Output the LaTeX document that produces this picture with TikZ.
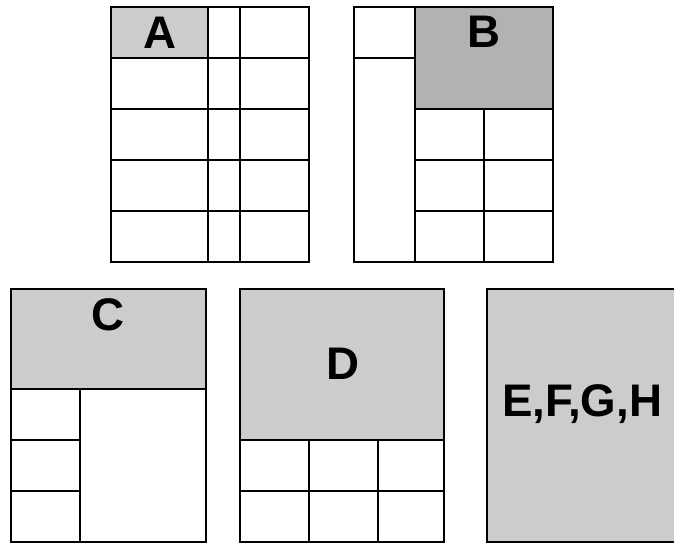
\documentclass[tikz,border=0pt]{standalone}
\usepackage{fontspec}
\setmainfont{Liberation Sans}
\usepackage{xcolor}
\usetikzlibrary{positioning}

\begin{document}
\begin{tikzpicture}[
                x=0.02cm, y=-0.02cm,
                frame/.style={draw=black, line width=1pt},
                lightcell/.style={fill=black!20},
                darkcell/.style={fill=black!30},
                letter/.style={
                        font=\fontsize{26}{31}\selectfont\bfseries,
                        inner sep=0pt
                    }
            ]

            \useasboundingbox (0,0) rectangle (674,543);
            \clip (0,0) rectangle (674,543);

            % layout A
            \fill[lightcell] (111,7) rectangle (208,58);
            \draw[frame] (111,7) rectangle (309,262);
            \foreach \x in {208,240}
                \draw[frame] (\x,7) -- (\x,262);
            \foreach \y in {58,109,160,211}
                \draw[frame] (111,\y) -- (309,\y);
            \node[letter] (labA) at (160,33) {A};

            % layout B
            \fill[darkcell] (415,7) rectangle (553,109);
            \draw[frame] (354,7) rectangle (553,262);
            \draw[frame] (415,7) -- (415,262);
            \draw[frame] (354,58) -- (415,58);
            \foreach \y in {109,160,211}
                \draw[frame] (415,\y) -- (553,\y);
            \draw[frame] (484,109) -- (484,262);
            \node[letter] (labB) at (484,32) {B};

            % layout C
            \fill[lightcell] (11,289) rectangle (206,389);
            \draw[frame] (11,289) rectangle (206,542);
            \draw[frame] (11,389) -- (206,389);
            \draw[frame] (80,389) -- (80,542);
            \foreach \y in {440,491}
                \draw[frame] (11,\y) -- (80,\y);
            \node[letter] (labC) at (108,315) {C};

            % layout D
            \fill[lightcell] (240,289) rectangle (444,440);
            \draw[frame] (240,289) rectangle (444,542);
            \foreach \y in {440,491}
                \draw[frame] (240,\y) -- (444,\y);
            \foreach \x in {309,378}
                \draw[frame] (\x,440) -- (\x,542);
            \node[letter] (labD) at (343,364) {D};

            % layout E..H
            \fill[lightcell] (487,289) rectangle (678,542);
            \draw[frame] (678,289) -- (487,289) -- (487,542) -- (678,542);
            \node[letter] (labE) at (582,404) {E,F,G,H};

        \end{tikzpicture}
\end{document}
